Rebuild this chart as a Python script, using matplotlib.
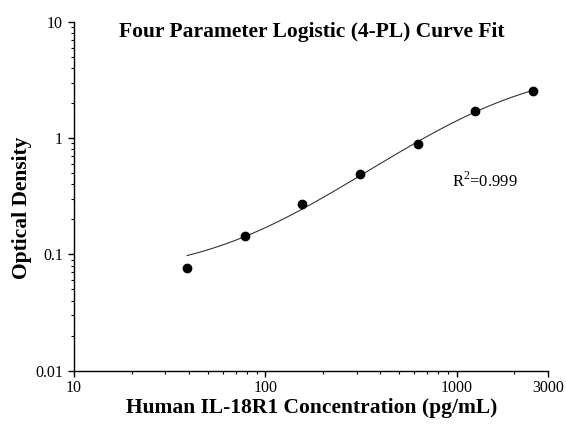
import numpy as np
import matplotlib
matplotlib.use("Agg")
import matplotlib.pyplot as plt
from matplotlib.ticker import FixedLocator, FixedFormatter, LogLocator, NullFormatter

# standard concentrations (pg/mL) and measured OD
conc = [39.06, 78.13, 156.25, 312.5, 625, 1250, 2500]
od = [0.077, 0.145, 0.270, 0.491, 0.885, 1.70, 2.56]

x_ticks = [10, 100, 1000, 3000]
x_tick_labels = ["10", "100", "1000", "3000"]
y_ticks = [0.01, 0.1, 1, 10]
y_tick_labels = ["0.01", "0.1", "1", "10"]

r2_text = "R$^2$=0.999"


def fit_4pl(x, y):
    # grid over slope b and midpoint c, linear least squares for bottom a / top d
    x = np.asarray(x, float)
    y = np.asarray(y, float)
    best = None
    for b in np.linspace(0.5, 3.0, 251):
        for logc in np.linspace(1.5, 4.5, 301):
            s = 1.0 / (1.0 + (x / 10**logc) ** b)
            M = np.column_stack([s, 1 - s])
            coef, *_ = np.linalg.lstsq(M, y, rcond=None)
            err = np.sum((M @ coef - y) ** 2)
            if best is None or err < best[0]:
                best = (err, coef[0], b, 10**logc, coef[1])
    return best[1:]


def model(x, a, b, c, d):
    return d + (a - d) / (1.0 + (x / c) ** b)


a, b, c, d = fit_4pl(conc, od)
xs = np.logspace(np.log10(conc[0]), np.log10(conc[-1]), 300)

plt.rcParams['font.family'] = ['Liberation Serif', 'DejaVu Serif']
plt.rcParams['mathtext.fontset'] = 'custom'
plt.rcParams['mathtext.rm'] = 'Liberation Serif'

fig = plt.figure(figsize=(5.66, 4.29), dpi=100)
ax = fig.add_axes([0.1307, 0.1359, 0.8373, 0.8135])

ax.plot(xs, model(xs, a, b, c, d), color='#333333', lw=0.8)
ax.plot(conc, od, 'o', color='black', ms=6)

ax.set_xscale('log')
ax.set_yscale('log')
ax.set_xlim(10, 3000)
ax.set_ylim(0.01, 10)

ax.xaxis.set_major_locator(FixedLocator(x_ticks))
ax.xaxis.set_major_formatter(FixedFormatter(x_tick_labels))
ax.xaxis.set_minor_locator(LogLocator(base=10, subs=np.arange(2, 10)))
ax.xaxis.set_minor_formatter(NullFormatter())
ax.yaxis.set_major_locator(FixedLocator(y_ticks))
ax.yaxis.set_major_formatter(FixedFormatter(y_tick_labels))
ax.yaxis.set_minor_locator(LogLocator(base=10, subs=np.arange(2, 10)))
ax.yaxis.set_minor_formatter(NullFormatter())

for side in ['top', 'right']:
    ax.spines[side].set_visible(False)
for side in ['left', 'bottom']:
    ax.spines[side].set_linewidth(1.0)
ax.tick_params(which='major', length=4.5, width=1.0, labelsize=11.5, direction='out')
ax.tick_params(axis='x', which='major', pad=2.5)
ax.tick_params(which='minor', length=2.5, width=0.8, direction='out')

fig.text(0.551, 0.925, "Four Parameter Logistic (4-PL) Curve Fit",
         ha='center', va='center', fontsize=15.5, fontweight='bold')
fig.text(0.551, 0.048, "Human IL-18R1 Concentration (pg/mL)",
         ha='center', va='center', fontsize=15.5, fontweight='bold')
fig.text(0.038, 0.515, "Optical Density", rotation=90,
         ha='center', va='center', fontsize=15.5, fontweight='bold')
fig.text(0.799, 0.578, r2_text, ha='left', va='center', fontsize=12)

fig.savefig("out.png", dpi=100)
